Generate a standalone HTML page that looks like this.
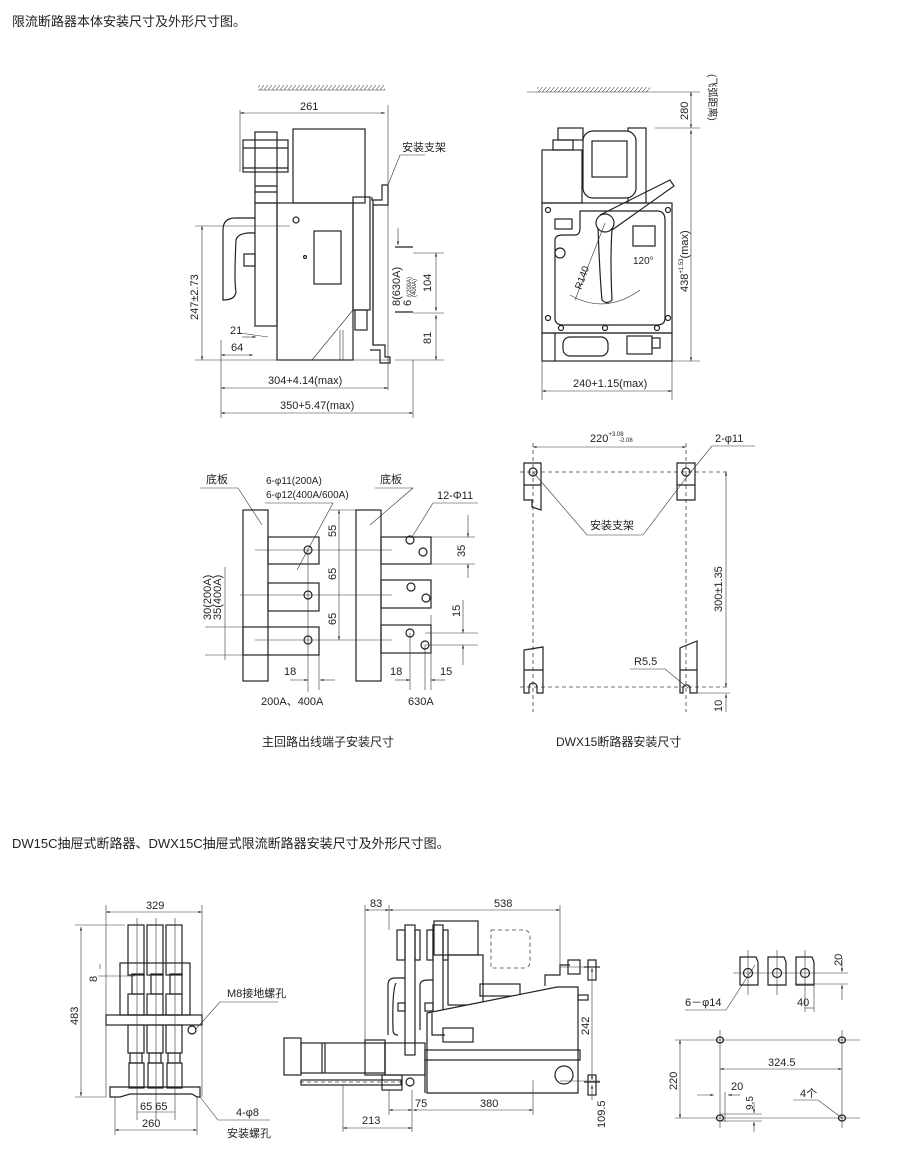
<!DOCTYPE html>
<html><head><meta charset="utf-8"><style>
html,body{margin:0;padding:0;background:#fff;}
svg{display:block;}
text{font-family:"Liberation Sans","Noto Sans CJK SC",sans-serif;fill:#222;font-size:11px;}
.o{fill:none;stroke:#222;stroke-width:1.2;}
.d{fill:none;stroke:#333;stroke-width:0.6;}
.ds{fill:none;stroke:#444;stroke-width:0.8;stroke-dasharray:4 3;}
.w{fill:#fff;stroke:#222;stroke-width:1.2;}
</style></head><body>
<svg width="920" height="1160" viewBox="0 0 920 1160" xmlns="http://www.w3.org/2000/svg">
<defs>
<marker id="a" viewBox="0 0 10 10" refX="10" refY="5" markerWidth="6" markerHeight="6" orient="auto-start-reverse"><path d="M0,2 L10,5 L0,8 z" fill="#222"/></marker>
<pattern id="h" width="4" height="5" patternUnits="userSpaceOnUse"><path d="M0,5 L4,0" stroke="#555" stroke-width="0.6"/></pattern>
</defs>

<text x="12" y="26" style="font-size:13px">限流断路器本体安装尺寸及外形尺寸图。</text>
<text x="12" y="848" style="font-size:13px">DW15C抽屉式断路器、DWX15C抽屉式限流断路器安装尺寸及外形尺寸图。</text>

<!-- Panel 1 side view -->
<rect x="258" y="85" width="127" height="5" fill="url(#h)"/>
<line x1="258" y1="90" x2="385" y2="90" class="d"/>
<line x1="240" y1="113" x2="385" y2="113" class="d" marker-start="url(#a)" marker-end="url(#a)"/>
<text x="300" y="110">261</text>
<line x1="240" y1="110" x2="240" y2="172" class="d"/>
<line x1="388" y1="105" x2="388" y2="390" class="d"/>
<rect x="243" y="140" width="45" height="32" class="o"/>
<line x1="243" y1="148" x2="288" y2="148" class="o"/>
<line x1="243" y1="168" x2="288" y2="168" class="o"/>
<rect x="255" y="132" width="22" height="71" class="o"/>
<line x1="255" y1="186" x2="277" y2="186" class="o"/><line x1="255" y1="192" x2="277" y2="192" class="o"/>
<rect x="293" y="129" width="72" height="74" class="o"/>
<rect x="255" y="203" width="22" height="123" class="o"/>
<rect x="277" y="203" width="76" height="157" class="o"/>
<circle cx="296" cy="220" r="3" class="o"/><circle cx="305" cy="257" r="1.5" class="o"/>
<rect x="314" y="231" width="27" height="53" class="o"/>
<rect x="353" y="197" width="17" height="113" class="o"/>
<rect x="355" y="310" width="12" height="20" class="o"/>
<path d="M372,197 V200 H382 V185 H388 V205 H373 V345 H385 V357 H390 V363 H380 V350 H370" class="o"/>
<line x1="373" y1="200" x2="373" y2="345" class="o"/>
<path d="M255,218 H235 Q223,218 223,230 V300 Q235,300 236,292 Q234,282 236,240 Q238,232 255,233" class="o"/>
<rect x="244" y="254" width="11" height="12" class="o"/>
<line x1="395" y1="247" x2="413" y2="247" class="o"/>
<line x1="395" y1="312" x2="413" y2="312" class="o"/>
<line x1="398" y1="228" x2="398" y2="245" class="d" marker-end="url(#a)"/>
<line x1="195" y1="226" x2="290" y2="226" class="d"/>
<line x1="202" y1="226" x2="202" y2="360" class="d" marker-start="url(#a)" marker-end="url(#a)"/>
<text transform="translate(198,320) rotate(-90)">247±2.73</text>
<line x1="195" y1="360" x2="390" y2="360" class="d"/>
<line x1="312" y1="360" x2="353" y2="310" class="d"/>
<line x1="340" y1="330" x2="340" y2="360" class="d"/><line x1="343" y1="330" x2="343" y2="360" class="d"/>
<line x1="240" y1="333" x2="268" y2="337" class="d"/>
<text x="230" y="334">21</text>
<line x1="221" y1="355" x2="253" y2="355" class="d" marker-start="url(#a)" marker-end="url(#a)"/>
<line x1="242" y1="337" x2="256" y2="337" class="d" marker-end="url(#a)"/>
<text x="231" y="351">64</text>
<line x1="221" y1="340" x2="221" y2="418" class="d"/>
<line x1="221" y1="388" x2="388" y2="388" class="d" marker-start="url(#a)" marker-end="url(#a)"/>
<text x="268" y="384">304+4.14(max)</text>
<line x1="413" y1="360" x2="413" y2="418" class="d"/>
<line x1="221" y1="413" x2="413" y2="413" class="d" marker-start="url(#a)" marker-end="url(#a)"/>
<text x="280" y="409">350+5.47(max)</text>
<line x1="413" y1="253" x2="444" y2="253" class="d"/><line x1="413" y1="313" x2="444" y2="313" class="d"/><line x1="395" y1="360" x2="444" y2="360" class="d"/>
<line x1="436" y1="253" x2="436" y2="311" class="d" marker-start="url(#a)" marker-end="url(#a)"/>
<line x1="436" y1="315" x2="436" y2="360" class="d" marker-start="url(#a)" marker-end="url(#a)"/>
<text transform="translate(431,292) rotate(-90)">104</text>
<text transform="translate(431,344) rotate(-90)">81</text>
<text transform="translate(400,306) rotate(-90)">8(630A)</text>
<text transform="translate(411,306) rotate(-90)">6</text>
<text transform="translate(411,297) rotate(-90)" style="font-size:6px">{(200A)</text>
<text transform="translate(416,297) rotate(-90)" style="font-size:6px">(400A)</text>
<text x="402" y="151">安装支架</text>
<polyline points="425,155 400,155 388,185" class="d"/>

<!-- Panel 2 front view -->
<rect x="537" y="87" width="113" height="5" fill="url(#h)"/>
<line x1="527" y1="92" x2="700" y2="92" class="d"/>
<line x1="655" y1="128" x2="700" y2="128" class="d"/>
<line x1="672" y1="361" x2="700" y2="361" class="d"/>
<line x1="691" y1="92" x2="691" y2="128" class="d" marker-start="url(#a)" marker-end="url(#a)"/>
<line x1="691" y1="130" x2="691" y2="361" class="d" marker-start="url(#a)" marker-end="url(#a)"/>
<text transform="translate(688,120) rotate(-90)">280</text>
<text transform="translate(709,74) rotate(90)" style="font-size:10px">(飞弧距离)</text>
<text transform="translate(688,292) rotate(-90)">438<tspan dy="-5" style="font-size:6px">+1.53</tspan><tspan dy="5">(max)</tspan></text>
<rect x="542" y="150" width="40" height="53" class="o"/>
<rect x="553" y="140" width="20" height="10" class="o"/>
<rect x="558" y="128" width="25" height="12" class="o"/>
<rect x="628" y="128" width="18" height="75" class="o"/>
<rect x="583" y="131" width="53" height="67" rx="10" class="w"/>
<rect x="592" y="141" width="35" height="36" class="o"/>
<rect x="542" y="203" width="130" height="130" class="o"/>
<path d="M580,211 H657 Q665,211 665,220 V318 Q665,325 657,325 H563 Q555,325 555,318 V240 Q555,235 563,235 H575 Q580,235 580,228 Z" class="o"/>
<rect x="555" y="219" width="17" height="10" class="o"/>
<rect x="633" y="226" width="22" height="20" class="o"/>
<circle cx="560" cy="253" r="5" class="o"/>
<circle cx="605" cy="223" r="9" class="o"/>
<path d="M598,228 Q600,280 602,300 Q607,305 612,300 Q610,260 612,228" class="o"/>
<path d="M600,215 L670,180 L674,186 L612,230" class="o"/>
<line x1="605" y1="223" x2="575" y2="300" class="d"/>
<path d="M570,295 Q605,315 640,290" class="d"/>
<text x="633" y="264" style="font-size:10px">120°</text>
<text transform="translate(581,290) rotate(-70)" style="font-size:10px">R140</text>
<circle cx="548" cy="210" r="2.5" class="o"/><circle cx="668" cy="210" r="2.5" class="o"/>
<circle cx="548" cy="318" r="2.5" class="o"/><circle cx="668" cy="318" r="2.5" class="o"/>
<circle cx="561" cy="328" r="2.5" class="o"/><circle cx="605" cy="328" r="2.5" class="o"/><circle cx="657" cy="328" r="2.5" class="o"/>
<rect x="542" y="333" width="130" height="28" class="o"/>
<line x1="555" y1="333" x2="555" y2="361" class="o"/>
<rect x="563" y="337" width="45" height="19" rx="7" class="o"/>
<rect x="627" y="336" width="25" height="18" class="o"/>
<rect x="652" y="338" width="8" height="10" class="o"/>
<line x1="542" y1="361" x2="542" y2="400" class="d"/><line x1="672" y1="361" x2="672" y2="400" class="d"/>
<line x1="542" y1="391" x2="672" y2="391" class="d" marker-start="url(#a)" marker-end="url(#a)"/>
<text x="573" y="387">240+1.15(max)</text>

<!-- Panel 3 terminals -->
<text x="206" y="483">底板</text>
<polyline points="200,488 238,488 262,525" class="d"/>
<text x="266" y="484" style="font-size:10px">6-φ11(200A)</text>
<text x="266" y="498" style="font-size:10px">6-φ12(400A/600A)</text>
<polyline points="265,503 333,503 297,570" class="d"/>
<rect x="243" y="510" width="25" height="171" class="o"/>
<rect x="268" y="537" width="51" height="27" class="o"/>
<rect x="268" y="583" width="51" height="28" class="o"/>
<rect x="243" y="627" width="76" height="28" class="o"/>
<circle cx="308" cy="550" r="4" class="o"/><circle cx="308" cy="595" r="4" class="o"/><circle cx="308" cy="640" r="4" class="o"/>
<line x1="308" y1="550" x2="308" y2="692" class="d"/>
<line x1="255" y1="550" x2="392" y2="550" class="d"/><line x1="240" y1="595" x2="392" y2="595" class="d"/><line x1="255" y1="640" x2="392" y2="640" class="d"/>
<line x1="330" y1="510" x2="356" y2="510" class="d"/>
<line x1="339" y1="510" x2="339" y2="640" class="d" marker-start="url(#a)" marker-end="url(#a)"/>
<text transform="translate(336,537) rotate(-90)">55</text>
<text transform="translate(336,580) rotate(-90)">65</text>
<text transform="translate(336,625) rotate(-90)">65</text>
<line x1="205" y1="627" x2="243" y2="627" class="d"/><line x1="205" y1="655" x2="243" y2="655" class="d"/>
<line x1="225" y1="567" x2="225" y2="660" class="d"/>
<text transform="translate(211,620) rotate(-90)">30(200A)</text>
<text transform="translate(221,620) rotate(-90)">35(400A)</text>
<line x1="319" y1="655" x2="319" y2="690" class="d"/>
<line x1="290" y1="680" x2="308" y2="680" class="d" marker-end="url(#a)"/>
<line x1="335" y1="680" x2="320" y2="680" class="d" marker-end="url(#a)"/>
<text x="284" y="675">18</text>
<text x="261" y="705">200A、400A</text>
<text x="380" y="483">底板</text>
<polyline points="375,488 413,488 370,525" class="d"/>
<rect x="356" y="510" width="25" height="171" class="o"/>
<rect x="381" y="537" width="50" height="27" class="o"/>
<rect x="381" y="580" width="50" height="28" class="o"/>
<rect x="381" y="625" width="50" height="28" class="o"/>
<circle cx="410" cy="540" r="4" class="o"/><circle cx="423" cy="552" r="4" class="o"/>
<circle cx="411" cy="587" r="4" class="o"/><circle cx="426" cy="598" r="4" class="o"/>
<circle cx="410" cy="633" r="4" class="o"/><circle cx="425" cy="645" r="4" class="o"/>
<text x="437" y="499">12-Φ11</text>
<polyline points="478,503 433,503 412,537" class="d"/>
<line x1="410" y1="633" x2="410" y2="690" class="d"/><line x1="425" y1="645" x2="425" y2="690" class="d"/><line x1="431" y1="615" x2="431" y2="690" class="d"/>
<line x1="431" y1="537" x2="475" y2="537" class="d"/><line x1="431" y1="564" x2="475" y2="564" class="d"/>
<line x1="468" y1="515" x2="468" y2="537" class="d" marker-end="url(#a)"/><line x1="468" y1="578" x2="468" y2="564" class="d" marker-end="url(#a)"/>
<text transform="translate(465,557) rotate(-90)">35</text>
<line x1="425" y1="633" x2="478" y2="633" class="d"/><line x1="425" y1="645" x2="478" y2="645" class="d"/>
<line x1="463" y1="600" x2="463" y2="633" class="d" marker-end="url(#a)"/><line x1="463" y1="665" x2="463" y2="645" class="d" marker-end="url(#a)"/>
<text transform="translate(460,617) rotate(-90)">15</text>
<line x1="395" y1="680" x2="410" y2="680" class="d" marker-end="url(#a)"/>
<line x1="445" y1="680" x2="431" y2="680" class="d" marker-end="url(#a)"/>
<text x="390" y="675">18</text><text x="440" y="675">15</text>
<text x="408" y="705">630A</text>
<text x="262" y="746" style="font-size:12px">主回路出线端子安装尺寸</text>
<text x="556" y="746" style="font-size:12px">DWX15断路器安装尺寸</text>

<!-- Panel 4 mounting -->
<line x1="533" y1="443" x2="533" y2="712" class="ds"/>
<line x1="686" y1="443" x2="686" y2="712" class="ds"/>
<line x1="520" y1="472" x2="730" y2="472" class="ds"/>
<line x1="520" y1="687" x2="730" y2="687" class="ds"/>
<line x1="533" y1="447" x2="686" y2="447" class="d" marker-start="url(#a)" marker-end="url(#a)"/>
<text x="590" y="442">220<tspan dy="-6" style="font-size:6px">+3.08</tspan></text>
<text x="619" y="442" style="font-size:6px">-2.08</text>
<path d="M524,463 H541 V510 L532,507 V500 H524 Z" class="o"/><line x1="524" y1="485" x2="541" y2="485" class="o"/>
<circle cx="533" cy="472" r="4" class="o"/>
<path d="M677,463 H695 V500 H677 Z" class="o"/><line x1="677" y1="485" x2="695" y2="485" class="o"/>
<circle cx="686" cy="472" r="4" class="o"/>
<path d="M524,650 L543,647 V693 H537 V687 A4,4 0 0 0 529,687 V693 H524 Z" class="o"/><line x1="524" y1="670" x2="543" y2="670" class="o"/>
<path d="M680,648 L697,641 V693 H690 V687 A4,4 0 0 0 683,687 V693 H680 Z" class="o"/><line x1="680" y1="670" x2="697" y2="670" class="o"/>
<text x="715" y="442">2-φ11</text>
<polyline points="755,446 712,446 686,478" class="d"/>
<text x="590" y="529">安装支架</text>
<polyline points="533,472 587,535 643,535 686,478" class="d"/>
<line x1="726" y1="472" x2="726" y2="687" class="d" marker-start="url(#a)" marker-end="url(#a)"/>
<text transform="translate(722,612) rotate(-90)">300±1.35</text>
<line x1="697" y1="693" x2="730" y2="693" class="d"/>
<line x1="726" y1="712" x2="726" y2="694" class="d" marker-end="url(#a)"/>
<text transform="translate(722,712) rotate(-90)">10</text>
<text x="634" y="665">R5.5</text>
<polyline points="630,669 665,669 688,688" class="d"/>

<!-- Panel 5 front drawer -->
<line x1="106" y1="905" x2="106" y2="1097" class="d"/><line x1="202" y1="905" x2="202" y2="1097" class="d"/>
<line x1="106" y1="912" x2="202" y2="912" class="d" marker-start="url(#a)" marker-end="url(#a)"/>
<text x="146" y="909">329</text>
<line x1="75" y1="925" x2="125" y2="925" class="d"/><line x1="75" y1="1097" x2="106" y2="1097" class="d"/>
<line x1="81" y1="927" x2="81" y2="1096" class="d" marker-start="url(#a)" marker-end="url(#a)"/>
<text transform="translate(78,1025) rotate(-90)">483</text>
<rect x="128" y="925" width="16" height="50" class="o"/><rect x="147" y="925" width="16" height="50" class="o"/><rect x="166" y="925" width="16" height="50" class="o"/>
<rect x="120" y="963" width="70" height="52" class="o"/>
<rect x="132" y="974" width="12" height="20" class="o"/><rect x="151" y="974" width="12" height="20" class="o"/><rect x="170" y="974" width="12" height="20" class="o"/>
<rect x="128" y="994" width="16" height="21" class="o"/><rect x="147" y="994" width="16" height="21" class="o"/><rect x="166" y="994" width="16" height="21" class="o"/>
<rect x="106" y="1015" width="96" height="10" class="o"/>
<rect x="128" y="1025" width="16" height="28" class="o"/><rect x="147" y="1025" width="16" height="28" class="o"/><rect x="166" y="1025" width="16" height="28" class="o"/>
<rect x="130" y="1053" width="12" height="10" class="o"/><rect x="149" y="1053" width="12" height="10" class="o"/><rect x="168" y="1053" width="12" height="10" class="o"/>
<rect x="129" y="1063" width="15" height="25" class="o"/><rect x="148" y="1063" width="15" height="25" class="o"/><rect x="167" y="1063" width="15" height="25" class="o"/>
<line x1="137" y1="918" x2="137" y2="1120" class="d"/><line x1="156" y1="918" x2="156" y2="1120" class="d"/><line x1="175" y1="918" x2="175" y2="1120" class="d"/>
<path d="M110,1087 H200 V1097 H197 L192,1094 H130 L120,1097 H110 Z" class="o"/>
<circle cx="192" cy="1030" r="4" class="o"/>
<line x1="98" y1="976" x2="135" y2="976" class="d"/><line x1="100" y1="969" x2="100" y2="964" class="d"/>
<text transform="translate(97,982) rotate(-90)">8</text>
<line x1="137" y1="1112" x2="175" y2="1112" class="d"/>
<text x="140" y="1110">65 65</text>
<line x1="115" y1="1097" x2="115" y2="1135" class="d"/><line x1="197" y1="1097" x2="197" y2="1135" class="d"/>
<line x1="115" y1="1130" x2="197" y2="1130" class="d" marker-start="url(#a)" marker-end="url(#a)"/>
<text x="142" y="1127">260</text>
<text x="227" y="997">M8接地螺孔</text>
<polyline points="278,1002 220,1002 195,1030" class="d"/>
<text x="236" y="1116">4-φ8</text>
<polyline points="270,1120 218,1120 200,1097" class="d"/>
<text x="227" y="1137">安装螺孔</text>

<!-- Panel 6 side drawer -->
<line x1="365" y1="905" x2="365" y2="1050" class="d"/><line x1="389" y1="905" x2="389" y2="930" class="d"/><line x1="560" y1="905" x2="560" y2="970" class="d"/>
<line x1="365" y1="910" x2="389" y2="910" class="d" marker-start="url(#a)" marker-end="url(#a)"/>
<line x1="389" y1="910" x2="560" y2="910" class="d" marker-start="url(#a)" marker-end="url(#a)"/>
<text x="370" y="907">83</text><text x="494" y="907">538</text>
<!-- breaker columns -->
<rect x="405" y="925" width="10" height="130" class="o"/>
<rect x="433" y="925" width="10" height="120" class="o"/>
<rect x="397" y="930" width="8" height="30" class="o"/><rect x="415" y="930" width="5" height="30" class="o"/>
<rect x="427" y="930" width="6" height="30" class="o"/><rect x="443" y="930" width="5" height="30" class="o"/>
<rect x="434" y="921" width="44" height="34" class="o"/>
<rect x="448" y="955" width="35" height="50" class="o"/>
<path d="M491,930 H523 Q530,930 530,937 V962 Q530,968 523,968 H491 Z" class="ds"/>
<path d="M388,1035 V985 Q388,978 395,978 H405 M396,983 Q392,990 393,1030 Q393,1035 398,1035" class="o"/>
<path d="M420,1030 V985 Q420,980 428,980 H433" class="o"/>
<rect x="398" y="1003" width="7" height="8" class="o"/><rect x="425" y="1003" width="8" height="8" class="o"/>
<rect x="480" y="984" width="40" height="12" class="o"/>
<path d="M545,986 V975 H560 V965 H570" class="o"/>
<path d="M427,1013 L557,987 H578 V1093 H427 Z" class="w"/>
<path d="M432,1013 V1035 L445,1035" class="o"/>
<rect x="443" y="1028" width="30" height="14" class="o"/>
<rect x="568" y="960" width="12" height="14" class="o"/>
<rect x="588" y="960" width="8" height="20" class="o"/><line x1="584" y1="967" x2="600" y2="967" class="o"/>
<rect x="588" y="1075" width="8" height="20" class="o"/><line x1="584" y1="1082" x2="600" y2="1082" class="o"/>
<rect x="578" y="995" width="10" height="5" class="o"/>
<rect x="425" y="1050" width="155" height="10" class="o"/>
<line x1="425" y1="1060" x2="425" y2="1093" class="o"/>
<rect x="284" y="1038" width="17" height="37" class="o"/>
<rect x="301" y="1043" width="84" height="30" class="o"/>
<line x1="322" y1="1043" x2="322" y2="1073" class="o"/><line x1="325" y1="1043" x2="325" y2="1073" class="o"/>
<rect x="365" y="1040" width="20" height="35" class="o"/>
<rect x="385" y="1043" width="40" height="32" class="o"/>
<circle cx="564" cy="1075" r="9" class="w"/>
<line x1="300" y1="1082" x2="405" y2="1082" class="ds"/>
<rect x="301" y="1080" width="100" height="5" class="o"/>
<rect x="382" y="1075" width="20" height="15" class="o"/>
<circle cx="410" cy="1082" r="4" class="o"/>
<line x1="560" y1="967" x2="600" y2="967" class="d"/><line x1="560" y1="1081" x2="600" y2="1081" class="d"/>
<line x1="592" y1="968" x2="592" y2="1080" class="d" marker-start="url(#a)" marker-end="url(#a)"/>
<text transform="translate(589,1035) rotate(-90)">242</text>
<line x1="592" y1="1100" x2="592" y2="1085" class="d" marker-end="url(#a)"/>
<text transform="translate(605,1128) rotate(-90)">109.5</text>
<line x1="389" y1="1090" x2="389" y2="1115" class="d"/><line x1="412" y1="1090" x2="412" y2="1132" class="d"/><line x1="533" y1="1080" x2="533" y2="1115" class="d"/>
<line x1="389" y1="1110" x2="412" y2="1110" class="d" marker-start="url(#a)" marker-end="url(#a)"/>
<line x1="413" y1="1110" x2="533" y2="1110" class="d" marker-start="url(#a)" marker-end="url(#a)"/>
<text x="415" y="1107">75</text><text x="480" y="1107">380</text>
<line x1="343" y1="1085" x2="343" y2="1132" class="d"/>
<line x1="343" y1="1128" x2="412" y2="1128" class="d" marker-start="url(#a)" marker-end="url(#a)"/>
<text x="362" y="1124">213</text>

<!-- Panel 7 -->
<path d="M740,957 H756 L758,962 V985 H740 Z" class="o"/>
<path d="M768,957 H784 L786,962 V985 H768 Z" class="o"/>
<path d="M796,957 H812 L814,962 V985 H796 Z" class="o"/>
<circle cx="748" cy="973" r="4.5" class="o"/><circle cx="777" cy="973" r="4.5" class="o"/><circle cx="805" cy="973" r="4.5" class="o"/>
<line x1="733" y1="973" x2="848" y2="973" class="d"/><line x1="795" y1="984" x2="848" y2="984" class="d"/>
<line x1="748" y1="950" x2="748" y2="995" class="d"/><line x1="777" y1="950" x2="777" y2="995" class="d"/><line x1="805" y1="950" x2="805" y2="1012" class="d"/>
<line x1="814" y1="985" x2="814" y2="1012" class="d"/>
<line x1="805" y1="1008" x2="814" y2="1008" class="d"/>
<text x="797" y="1006">40</text>
<line x1="842" y1="958" x2="842" y2="972" class="d" marker-end="url(#a)"/>
<line x1="842" y1="1000" x2="842" y2="985" class="d" marker-end="url(#a)"/>
<text transform="translate(842,966) rotate(-90)">20</text>
<text x="685" y="1006">6－φ14</text>
<polyline points="685,1010 726,1010 755,965" class="d"/>
<line x1="675" y1="1040" x2="860" y2="1040" class="d"/><line x1="675" y1="1118" x2="860" y2="1118" class="d"/>
<line x1="720" y1="1030" x2="720" y2="1128" class="d"/><line x1="842" y1="1030" x2="842" y2="1128" class="d"/>
<ellipse cx="720" cy="1040" rx="3.5" ry="3" class="o"/><ellipse cx="842" cy="1040" rx="3.5" ry="3" class="o"/>
<ellipse cx="720" cy="1118" rx="3.5" ry="3" class="o"/><ellipse cx="842" cy="1118" rx="3.5" ry="3" class="o"/>
<line x1="720" y1="1069" x2="842" y2="1069" class="d" marker-start="url(#a)" marker-end="url(#a)"/>
<text x="768" y="1066">324.5</text>
<line x1="680" y1="1040" x2="680" y2="1118" class="d" marker-start="url(#a)" marker-end="url(#a)"/>
<text transform="translate(677,1090) rotate(-90)">220</text>
<line x1="725" y1="1092" x2="725" y2="1122" class="d"/>
<line x1="697" y1="1095" x2="714" y2="1095" class="d" marker-end="url(#a)"/>
<line x1="740" y1="1095" x2="728" y2="1095" class="d" marker-end="url(#a)"/>
<text x="731" y="1090">20</text>
<line x1="720" y1="1114" x2="762" y2="1114" class="d"/><line x1="720" y1="1121" x2="762" y2="1121" class="d"/>
<line x1="754" y1="1102" x2="754" y2="1113" class="d" marker-end="url(#a)"/>
<line x1="754" y1="1132" x2="754" y2="1122" class="d" marker-end="url(#a)"/>
<text transform="translate(753,1110) rotate(-90)" style="font-size:10px">9.5</text>
<text x="800" y="1097">4个</text>
<polyline points="793,1100 818,1100 842,1118" class="d"/>
</svg>
</body></html>
